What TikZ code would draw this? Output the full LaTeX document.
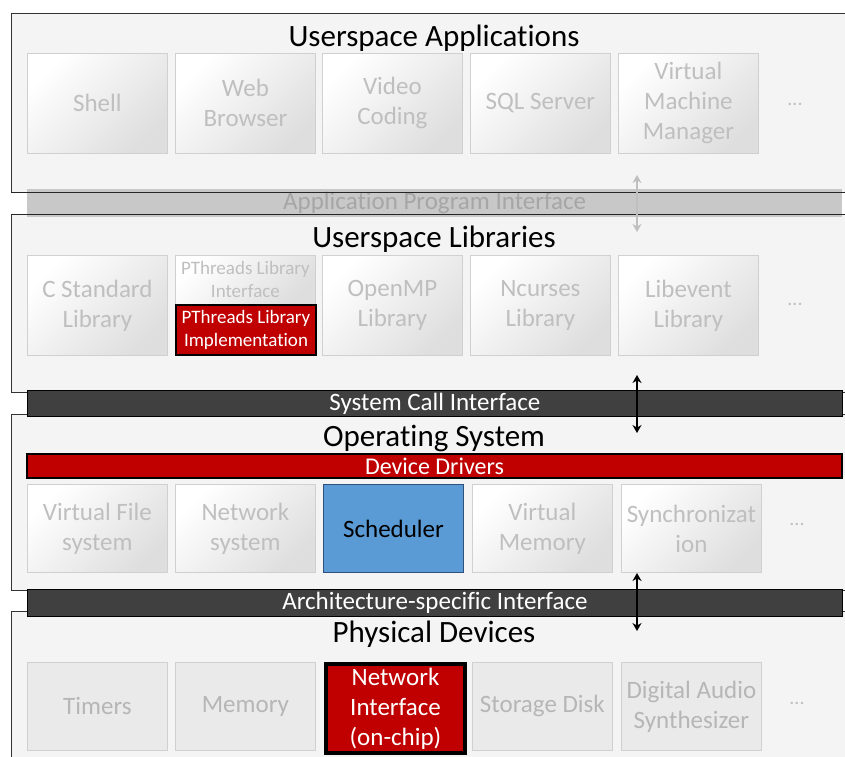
\documentclass[tikz,border=0pt]{standalone}
\usepackage{fontspec}
\setmainfont{Carlito}[Ligatures={NoCommon}]
\usetikzlibrary{arrows.meta}
\definecolor{framefill}{HTML}{F4F4F4}
\definecolor{boxborder}{HTML}{D0D0D0}
\definecolor{boxshade}{HTML}{DEDEDE}
\definecolor{flatbox}{HTML}{EAEAEA}
\definecolor{txtgray}{HTML}{BFBFBF}
\definecolor{apibar}{HTML}{C8C8C8}
\definecolor{apitext}{HTML}{A6A6A6}
\definecolor{darkbar}{HTML}{404040}
\definecolor{redfill}{HTML}{C00000}
\definecolor{bluefill}{HTML}{5B9BD5}
\definecolor{blueborder}{HTML}{2F4F7F}
\definecolor{arrgray}{HTML}{BFBFBF}
\tikzset{
  layer/.style={fill=framefill, draw=black!80, line width=0.8pt},
  gbox/.style={draw=boxborder, line width=0.8pt, left color=white, right color=boxshade, shading angle=45,
    minimum width=140pt, inner sep=0pt, text=txtgray, align=center,
    font=\fontsize{25}{30}\selectfont},
  title/.style={font=\fontsize{31}{34}\selectfont, text=black, inner sep=0pt},
  dots/.style={font=\fontsize{20}{22}\selectfont, text=txtgray, inner sep=0pt},
  barnode/.style={minimum width=815pt, inner sep=0pt, anchor=north west, font=\fontsize{25}{28}\selectfont},
  darkbarst/.style={barnode, fill=darkbar, draw=black, line width=0.8pt, text=white},
  dblarrow/.style={<->, >={Stealth[length=8pt,width=9pt]}, line width=1.5pt},
  pbox/.style={draw=boxborder, line width=0.8pt, fill=flatbox, minimum width=140pt, minimum height=88pt,
    inner sep=0pt, anchor=north west, text=txtgray!95!black, align=center, font=\fontsize{25}{30}\selectfont},
}
\begin{document}
\begin{tikzpicture}[x=1pt,y=-1pt]
\useasboundingbox (0,0) rectangle (845,756);
\clip (0,0) rectangle (845,756);
% layers
\path[layer] (11,13) rectangle (860,192);
\path[layer] (11,214) rectangle (860,392);
\path[layer] (11,414) rectangle (860,590);
\path[layer] (11,611) rectangle (860,770);

% ---- Userspace Applications
\node[title] (tApps) at (434,38) {Userspace Applications};
\node[gbox, minimum height=100pt, anchor=north west] (shell) at (27,53) {Shell};
\node[gbox, minimum height=100pt, anchor=north west] (web) at (175,53) {Web\\Browser};
\node[gbox, minimum height=100pt, anchor=north west] (video) at (322,53) {Video\\Coding};
\node[gbox, minimum height=100pt, anchor=north west] (sql) at (470,53) {SQL Server};
\node[gbox, minimum height=100pt, anchor=north west] (vmm) at (618,53) {Virtual\\Machine\\Manager};
\node[dots] (dApps) at (795,104) {...};

% ---- API bar
\node[barnode, fill=apibar, minimum height=28pt, text=apitext] (api) at (27,189) {Application Program Interface};
\draw[black!85, line width=0.8pt] (11,192) -- (860,192);
\draw[black!85, line width=0.8pt] (11,214) -- (860,214);

% ---- Userspace Libraries
\node[title] (tLibs) at (434,239) {Userspace Libraries};
\node[gbox, minimum height=100pt, anchor=north west] (cstd) at (27,255) {C Standard\\Library};
\node[gbox, minimum height=49pt, anchor=north west, font=\fontsize{19}{23}\selectfont] (pif) at (175,255) {PThreads Library\\Interface};
\node[draw=black, line width=2pt, fill=redfill, minimum width=140pt, minimum height=50pt, inner sep=0pt, anchor=north west,
  text=white, align=center, font=\fontsize{19}{23}\selectfont] (pimpl) at (175,304) {PThreads Library\\Implementation};
\node[gbox, minimum height=100pt, anchor=north west] (omp) at (322,255) {OpenMP\\Library};
\node[gbox, minimum height=100pt, anchor=north west] (ncur) at (470,255) {Ncurses\\Library};
\node[gbox, minimum height=100pt, anchor=north west] (levt) at (618,255) {Libevent\\Library};
\node[dots] (dLibs) at (795,304) {...};

% ---- System call bar
\node[darkbarst, minimum height=26pt] (sci) at (27,390) {System Call Interface};

% ---- Operating System
\node[title] (tOS) at (434,438) {Operating System};
\node[barnode, fill=redfill, draw=black, line width=2pt, minimum width=815pt, minimum height=24pt, text=white, font=\fontsize{24}{26}\selectfont] (dd) at (26,453) {Device Drivers};
\node[gbox, minimum height=88pt, anchor=north west] (vfs) at (27,484) {Virtual File\\system};
\node[gbox, minimum height=88pt, anchor=north west] (netsys) at (175,484) {Network\\system};
\node[draw=blueborder, line width=1pt, fill=bluefill, minimum width=140pt, minimum height=88pt, inner sep=0pt, anchor=north west,
  text=black, align=center, font=\fontsize{25}{30}\selectfont] (sched) at (323,484) {Scheduler};
\node[gbox, minimum height=88pt, anchor=north west] (vmem) at (472,484) {Virtual\\Memory};
\node[gbox, minimum height=88pt, anchor=north west] (sync) at (621,484) {Synchronizat\\ion};
\node[dots] (dOS) at (797,524) {...};

% ---- Arch bar
\node[darkbarst, minimum height=27pt] (asi) at (27,589) {Architecture-specific Interface};

% ---- Physical Devices
\node[title] (tPhys) at (434,634) {Physical Devices};
\node[pbox] (timers) at (27,662) {Timers};
\node[pbox] (mem) at (175,662) {Memory};
\node[draw=black, line width=4pt, fill=redfill, minimum width=139pt, minimum height=89pt, inner sep=0pt, anchor=north west,
  text=white, align=center, font=\fontsize{25}{30}\selectfont] (nic) at (324,662) {Network\\Interface\\(on-chip)};
\node[pbox] (disk) at (472,662) {Storage Disk};
\node[pbox] (audio) at (621,662) {Digital Audio\\Synthesizer};
\node[dots] (dPhys) at (797,703) {...};

% ---- arrows
\coordinate (a1t) at (637,175);
\coordinate (a1b) at (637,232);
\coordinate (a2t) at (637,375);
\coordinate (a2b) at (637,433);
\coordinate (a3t) at (637,573);
\coordinate (a3b) at (637,631);
\draw[dblarrow, arrgray] (a1t) -- (a1b);
\draw[dblarrow, black] (a2t) -- (a2b);
\draw[dblarrow, black] (a3t) -- (a3b);
\end{tikzpicture}
\end{document}
